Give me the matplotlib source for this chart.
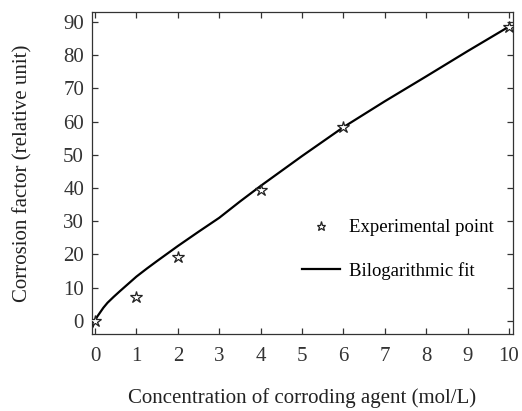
import numpy as np
import matplotlib.pyplot as plt

plt.rcParams['font.family'] = ['Liberation Serif', 'DejaVu Serif']

# experimental points
conc = [0, 1, 2, 4, 6, 10]
factor = [0, 7.2, 19.3, 39.3, 58.3, 88.6]

# bilogarithmic fit
fit_x = [-0.06, 0, 0.05, 0.1, 0.2, 0.3, 0.45, 0.6, 0.8, 1, 1.25, 1.5, 2, 2.5,
         3, 3.5, 4, 5, 6, 7, 8, 9, 10]
fit_y = [-1.8, 0, 1.2, 2.1, 3.9, 5.4, 7.2, 8.9, 11.1, 13.3, 15.7, 18.0, 22.5, 26.8,
         31.0, 35.9, 40.6, 49.6, 58.3, 66.1, 73.6, 81.2, 88.6]

xticks = list(range(0, 11))
yticks = list(range(0, 100, 10))

fig = plt.figure(figsize=(5.22, 4.11), dpi=100)
ax = fig.add_subplot(111)
fig.subplots_adjust(left=0.177, right=0.982, top=0.9715, bottom=0.1866)

ax.plot(conc, factor, linestyle='none', marker='*', ms=9, mfc='white',
        mec='#222222', mew=0.9, label='Experimental point', zorder=3)
ax.plot(fit_x, fit_y, color='black', lw=1.6, label='Bilogarithmic fit', zorder=2)

ax.set_xlim(-0.065, 10.09)
ax.set_ylim(-4.1, 93.1)
ax.set_xticks(xticks)
ax.set_yticks(yticks)
ax.tick_params(direction='in', top=True, right=True, length=4, width=0.9,
               labelsize=15, colors='#333333')
ax.tick_params(axis='x', pad=9)
ax.tick_params(axis='y', pad=6)
for s in ax.spines.values():
    s.set_color('#333333')
    s.set_linewidth(0.9)

ax.set_xlabel('Concentration of corroding agent (mol/L)', fontsize=15,
              color='#222222', labelpad=16)
ax.set_ylabel('Corrosion factor (relative unit)', fontsize=15,
              color='#222222', labelpad=22)

ax.legend(loc='center left', bbox_to_anchor=(0.459, 0.263), frameon=False,
          fontsize=13.5, labelspacing=1.35, handlelength=2.0, handletextpad=0.48,
          markerscale=0.75)

fig.savefig('out.png', dpi=100)
